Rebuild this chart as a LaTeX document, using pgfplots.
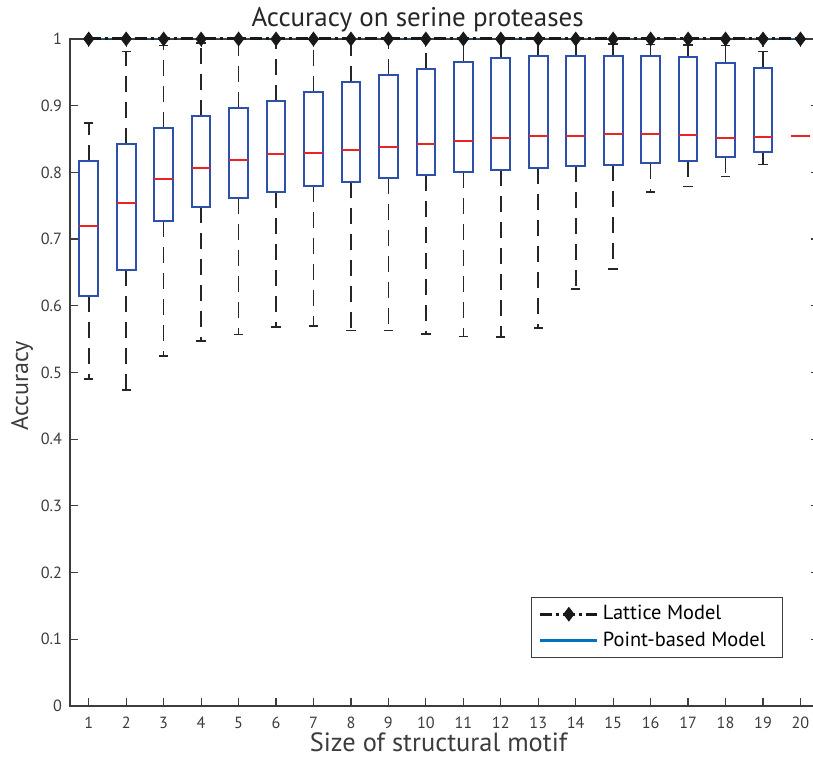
\documentclass[border=0pt]{standalone}
\usepackage{pgfplots}
\pgfplotsset{compat=1.18}
\usepgfplotslibrary{statistics}
\usepackage{fontspec}
\setmainfont{PT Sans}
\definecolor{boxblue}{RGB}{45,80,170}
\definecolor{medred}{RGB}{235,35,35}
\definecolor{axgray}{RGB}{60,60,60}
\definecolor{ptblue}{RGB}{0,114,189}
\pgfplotsset{
  mybox/.style={
    forget plot, draw=boxblue, line width=1pt,
    boxplot/draw direction=y,
    boxplot/box extend=0.5,
    boxplot/whisker extend=0.25,
    boxplot/every median/.style={draw=medred, line width=0.9pt},
    boxplot/draw/lower whisker/.code={
      \draw[black!85, line width=0.8pt, dash pattern=on 8pt off 5pt]
        (boxplot cs:\pgfplotsboxplotvalue{lower quartile}) --
        (boxplot cs:\pgfplotsboxplotvalue{lower whisker});
      \draw[black!85, line width=0.8pt]
        (boxplot whisker cs:\pgfplotsboxplotvalue{lower whisker},0) --
        (boxplot whisker cs:\pgfplotsboxplotvalue{lower whisker},1);
    },
    boxplot/draw/upper whisker/.code={
      \draw[black!85, line width=0.8pt, dash pattern=on 8pt off 5pt]
        (boxplot cs:\pgfplotsboxplotvalue{upper quartile}) --
        (boxplot cs:\pgfplotsboxplotvalue{upper whisker});
      \draw[black!85, line width=0.8pt]
        (boxplot whisker cs:\pgfplotsboxplotvalue{upper whisker},0) --
        (boxplot whisker cs:\pgfplotsboxplotvalue{upper whisker},1);
    },
  },
}
\begin{document}
\begin{tikzpicture}
\useasboundingbox (-35pt,-26.5pt) rectangle (371.5pt,353pt);
\begin{axis}[
  scale only axis,
  width=374.6pt, height=333.5pt,
  xmin=0.5, xmax=20.5, ymin=0, ymax=1,
  clip=false,
  axis line style={axgray, line width=0.6pt},
  tick style={axgray, line width=0.6pt},
  tick align=inside,
  major tick length=4pt,
  xtick={1,...,20},
  ytick={0,0.1,0.2,0.3,0.4,0.5,0.6,0.7,0.8,0.9,1},
  yticklabels={0,0.1,0.2,0.3,0.4,0.5,0.6,0.7,0.8,0.9,1},
  /pgf/number format/assume math mode=true,
  tick label style={font=\fontsize{8.1}{9.5}\selectfont, text=axgray},
  xticklabel style={yshift=-2pt},
  yticklabel style={xshift=-0.5pt},
  title={Accuracy on serine proteases},
  every axis title/.style={at={(axis description cs:0.464,1)}, anchor=base, yshift=6.2pt, font=\fontsize{13.5}{15}\selectfont, text=black!85},
  xlabel={Size of structural motif},
  xlabel style={at={(axis description cs:0.492,0)}, anchor=base, yshift=-23pt, font=\fontsize{13.2}{15}\selectfont, text=axgray},
  ylabel={Accuracy},
  ylabel style={at={(axis description cs:-0.056,0.48)}, anchor=base, font=\fontsize{12}{14}\selectfont, text=axgray},
  reverse legend,
  legend style={at={(axis description cs:0.952,0.072)}, anchor=south east, draw=axgray, line width=0.6pt,
    font=\fontsize{10.2}{12}\selectfont, inner xsep=3.5pt, inner ysep=2pt, row sep=0.5pt, cells={anchor=west}},
  legend image code/.code={\draw[mark repeat=2, mark phase=2, #1] plot coordinates {(0cm,0cm) (0.5cm,0cm) (1cm,0cm)};},
]
% box plots
\addplot[mybox, boxplot prepared={draw position=1, lower whisker=0.490, lower quartile=0.615, median=0.720, upper quartile=0.817, upper whisker=0.874}] coordinates {};
\addplot[mybox, boxplot prepared={draw position=2, lower whisker=0.474, lower quartile=0.653, median=0.754, upper quartile=0.843, upper whisker=0.981}] coordinates {};
\addplot[mybox, boxplot prepared={draw position=3, lower whisker=0.525, lower quartile=0.727, median=0.790, upper quartile=0.866, upper whisker=0.990}] coordinates {};
\addplot[mybox, boxplot prepared={draw position=4, lower whisker=0.547, lower quartile=0.748, median=0.807, upper quartile=0.885, upper whisker=0.994}] coordinates {};
\addplot[mybox, boxplot prepared={draw position=5, lower whisker=0.557, lower quartile=0.761, median=0.818, upper quartile=0.897, upper whisker=1.0}] coordinates {};
\addplot[mybox, boxplot prepared={draw position=6, lower whisker=0.568, lower quartile=0.771, median=0.827, upper quartile=0.907, upper whisker=1.0}] coordinates {};
\addplot[mybox, boxplot prepared={draw position=7, lower whisker=0.570, lower quartile=0.780, median=0.829, upper quartile=0.920, upper whisker=1.0}] coordinates {};
\addplot[mybox, boxplot prepared={draw position=8, lower whisker=0.563, lower quartile=0.786, median=0.833, upper quartile=0.936, upper whisker=1.0}] coordinates {};
\addplot[mybox, boxplot prepared={draw position=9, lower whisker=0.563, lower quartile=0.792, median=0.838, upper quartile=0.946, upper whisker=1.0}] coordinates {};
\addplot[mybox, boxplot prepared={draw position=10, lower whisker=0.558, lower quartile=0.796, median=0.843, upper quartile=0.955, upper whisker=1.0}] coordinates {};
\addplot[mybox, boxplot prepared={draw position=11, lower whisker=0.554, lower quartile=0.800, median=0.847, upper quartile=0.965, upper whisker=1.0}] coordinates {};
\addplot[mybox, boxplot prepared={draw position=12, lower whisker=0.553, lower quartile=0.803, median=0.851, upper quartile=0.971, upper whisker=1.0}] coordinates {};
\addplot[mybox, boxplot prepared={draw position=13, lower whisker=0.567, lower quartile=0.806, median=0.854, upper quartile=0.974, upper whisker=1.0}] coordinates {};
\addplot[mybox, boxplot prepared={draw position=14, lower whisker=0.625, lower quartile=0.809, median=0.855, upper quartile=0.975, upper whisker=1.0}] coordinates {};
\addplot[mybox, boxplot prepared={draw position=15, lower whisker=0.655, lower quartile=0.811, median=0.857, upper quartile=0.975, upper whisker=0.9925}] coordinates {};
\addplot[mybox, boxplot prepared={draw position=16, lower whisker=0.771, lower quartile=0.814, median=0.857, upper quartile=0.975, upper whisker=0.992}] coordinates {};
\addplot[mybox, boxplot prepared={draw position=17, lower whisker=0.779, lower quartile=0.817, median=0.856, upper quartile=0.973, upper whisker=0.991}] coordinates {};
\addplot[mybox, boxplot prepared={draw position=18, lower whisker=0.794, lower quartile=0.823, median=0.852, upper quartile=0.964, upper whisker=0.990}] coordinates {};
\addplot[mybox, boxplot prepared={draw position=19, lower whisker=0.812, lower quartile=0.830, median=0.853, upper quartile=0.957, upper whisker=0.981}] coordinates {};
\addplot[mybox, boxplot/draw/box/.code={}, boxplot/draw/lower whisker/.code={}, boxplot/draw/upper whisker/.code={},
  boxplot prepared={draw position=20, lower whisker=0.855, lower quartile=0.855, median=0.855, upper quartile=0.855, upper whisker=0.855}] coordinates {};
% point-based model (hidden under the lattice line and the axis line)
\addplot[ptblue, line width=0.5pt,
  legend image code/.code={\draw[ptblue, line width=1.6pt] (0cm,0cm) -- (1cm,0cm);}]
  coordinates {(1,1) (2,1) (3,1) (4,1) (5,1) (6,1) (7,1) (8,1) (9,1) (10,1) (11,1) (12,1) (13,1) (14,1) (15,1) (16,1) (17,1) (18,1) (19,1) (20,1)};
\addlegendentry{Point-based Model\hspace*{3pt}}
% lattice model
\addplot[black!90, line width=1.5pt, dash pattern=on 6pt off 2pt on 1.5pt off 2pt, mark=diamond*, mark size=2.5pt, mark options={solid, fill=black!90}] coordinates {(1,1) (2,1) (3,1) (4,1) (5,1) (6,1) (7,1) (8,1) (9,1) (10,1) (11,1) (12,1) (13,1) (14,1) (15,1) (16,1) (17,1) (18,1) (19,1) (20,1)};
\addlegendentry{Lattice Model}
\end{axis}
\end{tikzpicture}
\end{document}
